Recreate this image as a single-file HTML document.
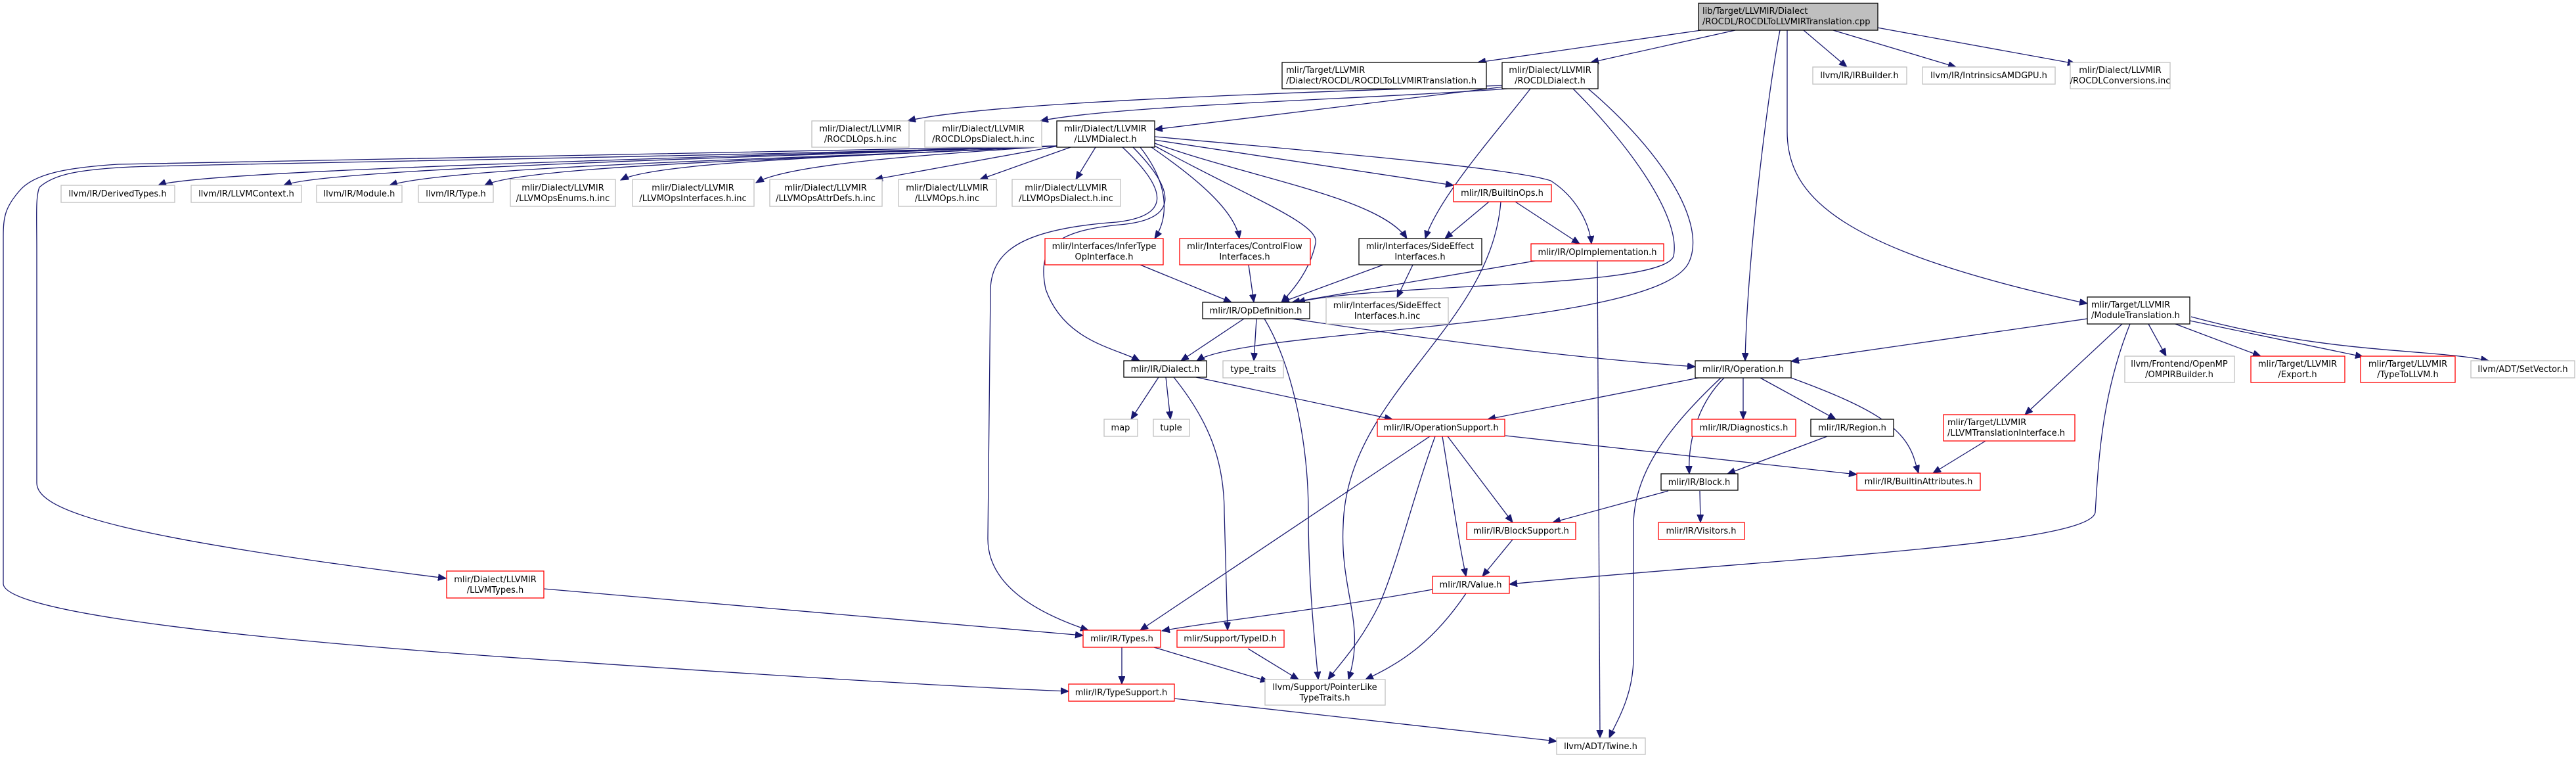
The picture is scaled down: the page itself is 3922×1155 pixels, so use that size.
<!DOCTYPE html>
<html><head><meta charset="utf-8"><style>
html,body{margin:0;padding:0;background:#fff;}
svg{display:block;}
text{font-family:"DejaVu Sans","Liberation Sans",sans-serif;font-size:13px;fill:#000;}
.e{fill:none;stroke:#191970;stroke-width:1.3;marker-end:url(#a);}
.b{fill:#fff;stroke:#000;stroke-width:1.3;}
.r{fill:#fff;stroke:#ff0000;stroke-width:1.3;}
.g{fill:#fff;stroke:#bfbfbf;stroke-width:1.3;}
.c{text-anchor:middle;}
</style></head><body>
<svg width="3922" height="1155" viewBox="0 0 3922 1155" xmlns="http://www.w3.org/2000/svg">
<defs><marker id="a" markerUnits="userSpaceOnUse" markerWidth="14" markerHeight="12" refX="12" refY="5" orient="auto"><path d="M0,0 L12,5 L0,10 z" fill="#191970" stroke="#191970"/></marker></defs>

<!-- edges -->
<path class="e" d="M2590,46 L2250,95"/>
<path class="e" d="M2642,46 L2422,95"/>
<path class="e" d="M2710,46 C2690,150 2660,400 2657,549"/>
<path class="e" d="M2721,46 L2721,200 C2721,300 2800,380 3178,462"/>
<path class="e" d="M2746,46 L2812,102"/>
<path class="e" d="M2791,46 L2978,102"/>
<path class="e" d="M2858,42 L3160,97"/>

<path class="e" d="M2290,132 L1758,197"/>
<path class="e" d="M2295,135 C2100,150 1700,160 1584,184"/>
<path class="e" d="M2290,130 C2000,140 1500,155 1382,184"/>
<path class="e" d="M2330,135 C2280,200 2190,300 2170,363"/>
<path class="e" d="M2395,135 C2480,220 2560,330 2548,390 C2530,440 2100,430 1975,460"/>
<path class="e" d="M2418,135 C2530,230 2600,340 2571,400 C2520,500 1900,500 1822,549"/>

<path class="e" d="M1630,224 L1492,273"/>
<path class="e" d="M1668,224 L1638,273"/>
<path class="e" d="M1612,222 L1332,273"/>
<path class="e" d="M1610,222 C1400,236 1200,250 1151,278"/>
<path class="e" d="M1610,222 C1300,238 1000,246 945,274"/>
<path class="e" d="M1610,222 C1300,240 800,250 738,282"/>
<path class="e" d="M1610,222 C1300,240 700,250 593,282"/>
<path class="e" d="M1610,222 C1200,238 500,255 432,282"/>
<path class="e" d="M1610,222 C1200,236 300,258 241,282"/>
<path class="e" d="M1610,222 C1200,236 300,250 200,254 C120,258 82,265 60,285 C54,300 56,330 56,380 L56,735 C56,780 200,820 679,880"/>
<path class="e" d="M1610,222 C1200,232 300,245 180,250 C100,255 51,265 30,290 C8,315 5,330 5,360 L5,888 C5,920 200,960 800,1002 C1200,1030 1450,1045 1627,1052"/>
<path class="e" d="M1758,213 L2213,282"/>
<path class="e" d="M1758,208 C2000,230 2300,255 2361,275 C2400,300 2420,340 2423,371"/>
<path class="e" d="M1758,218 C1900,270 2100,300 2142,363"/>
<path class="e" d="M1736,224 C1780,280 1780,330 1758,363"/>
<path class="e" d="M1753,224 C1820,270 1880,320 1887,363"/>
<path class="e" d="M1758,222 C1900,300 2010,340 2003,370 C1995,410 1970,440 1951,460"/>
<path class="e" d="M1709,224 C1790,300 1770,330 1700,338 C1560,348 1510,380 1508,440 L1504,820 C1504,900 1600,940 1657,959"/>
<path class="e" d="M1725,224 C1800,300 1785,335 1705,342 C1600,352 1580,380 1592,440 C1620,520 1700,530 1735,549"/>

<path class="e" d="M2267,307 L2200,363"/>
<path class="e" d="M2307,307 L2405,371"/>
<path class="e" d="M2285,307 C2270,500 2050,600 2045,800 C2040,900 2080,950 2053,1034"/>
<path class="e" d="M2432,397 L2436,1123"/>

<path class="e" d="M1736,403 L1875,460"/>
<path class="e" d="M1901,403 L1909,460"/>
<path class="e" d="M2106,403 L1951,460"/>
<path class="e" d="M2151,403 L2127,453"/>
<path class="e" d="M2343,396 L1967,460"/>

<path class="e" d="M1894,485 L1798,549"/>
<path class="e" d="M1913,485 L1909,549"/>
<path class="e" d="M1967,485 C2200,520 2400,545 2581,558"/>
<path class="e" d="M1925,485 C1970,560 1992,680 1992,780 C1992,880 2000,960 2007,1034"/>

<path class="e" d="M1764,574 L1722,638"/>
<path class="e" d="M1775,574 L1782,638"/>
<path class="e" d="M1821,574 L2120,638"/>
<path class="e" d="M1787,574 C1840,640 1864,700 1864,780 L1869,959"/>

<path class="e" d="M2586,575 L2265,638"/>
<path class="e" d="M2654,575 L2654,638"/>
<path class="e" d="M2680,575 L2795,638"/>
<path class="e" d="M2727,575 C2850,620 2900,650 2915,700 L2921,720"/>
<path class="e" d="M2625,575 C2580,620 2570,680 2572,721"/>
<path class="e" d="M2620,575 C2540,650 2487,720 2487,800 L2487,1000 C2487,1060 2460,1100 2450,1123"/>
<path class="e" d="M2782,664 L2630,721"/>
<path class="e" d="M2540,747 L2364,795"/>
<path class="e" d="M2588,747 L2589,795"/>

<path class="e" d="M2292,663 L2827,722"/>
<path class="e" d="M2204,664 L2303,795"/>
<path class="e" d="M2196,664 C2210,750 2220,820 2232,877"/>
<path class="e" d="M2177,664 L1736,959"/>
<path class="e" d="M2185,664 C2150,760 2130,850 2100,920 C2070,980 2040,1010 2022,1034"/>
<path class="e" d="M2303,821 L2257,877"/>
<path class="e" d="M2181,897 C2000,930 1850,945 1769,960"/>
<path class="e" d="M2232,903 C2180,980 2130,1010 2079,1034"/>
<path class="e" d="M1708,985 L1708,1041"/>
<path class="e" d="M1757,985 L1931,1037"/>
<path class="e" d="M1900,987 L1977,1034"/>
<path class="e" d="M1788,1063 L2370,1128"/>
<path class="e" d="M828,896 L1649,967"/>

<path class="e" d="M3178,485 L2727,550"/>
<path class="e" d="M3231,493 L3083,631"/>
<path class="e" d="M3243,493 C3200,600 3195,700 3190,780 C3180,830 2700,850 2298,889"/>
<path class="e" d="M3271,493 L3298,542"/>
<path class="e" d="M3312,493 L3442,542"/>
<path class="e" d="M3334,488 L3598,543"/>
<path class="e" d="M3336,482 C3550,540 3700,530 3789,549"/>
<path class="e" d="M3023,671 L2943,720"/>

<!-- nodes -->
<rect x="2586" y="5" width="273" height="41" fill="#bfbfbf" stroke="#000" stroke-width="1.3"/>
<text x="2592" y="21">lib/Target/LLVMIR/Dialect</text><text x="2592" y="37">/ROCDL/ROCDLToLLVMIRTranslation.cpp</text>

<rect class="b" x="1952" y="95" width="311" height="40"/>
<text x="1958" y="111">mlir/Target/LLVMIR</text><text x="1958" y="127">/Dialect/ROCDL/ROCDLToLLVMIRTranslation.h</text>
<rect class="b" x="2287" y="95" width="146" height="40"/>
<text class="c" x="2360" y="111">mlir/Dialect/LLVMIR</text><text class="c" x="2360" y="127">/ROCDLDialect.h</text>
<rect class="g" x="2760" y="102" width="143" height="26"/><text class="c" x="2831" y="119">llvm/IR/IRBuilder.h</text>
<rect class="g" x="2927" y="102" width="202" height="26"/><text class="c" x="3028" y="119">llvm/IR/IntrinsicsAMDGPU.h</text>
<rect class="g" x="3152" y="95" width="152" height="40"/>
<text class="c" x="3228" y="111">mlir/Dialect/LLVMIR</text><text class="c" x="3228" y="127">/ROCDLConversions.inc</text>

<rect class="g" x="1236" y="184" width="148" height="40"/>
<text class="c" x="1310" y="200">mlir/Dialect/LLVMIR</text><text class="c" x="1310" y="216">/ROCDLOps.h.inc</text>
<rect class="g" x="1408" y="184" width="178" height="40"/>
<text class="c" x="1497" y="200">mlir/Dialect/LLVMIR</text><text class="c" x="1497" y="216">/ROCDLOpsDialect.h.inc</text>
<rect class="b" x="1609" y="184" width="149" height="40"/>
<text class="c" x="1683" y="200">mlir/Dialect/LLVMIR</text><text class="c" x="1683" y="216">/LLVMDialect.h</text>

<rect class="g" x="93" y="282" width="173" height="26"/><text class="c" x="179" y="299">llvm/IR/DerivedTypes.h</text>
<rect class="g" x="291" y="282" width="168" height="26"/><text class="c" x="375" y="299">llvm/IR/LLVMContext.h</text>
<rect class="g" x="482" y="282" width="130" height="26"/><text class="c" x="547" y="299">llvm/IR/Module.h</text>
<rect class="g" x="637" y="282" width="114" height="26"/><text class="c" x="694" y="299">llvm/IR/Type.h</text>
<rect class="g" x="777" y="273" width="160" height="41"/>
<text class="c" x="857" y="290">mlir/Dialect/LLVMIR</text><text class="c" x="857" y="306">/LLVMOpsEnums.h.inc</text>
<rect class="g" x="963" y="273" width="185" height="41"/>
<text class="c" x="1055" y="290">mlir/Dialect/LLVMIR</text><text class="c" x="1055" y="306">/LLVMOpsInterfaces.h.inc</text>
<rect class="g" x="1172" y="273" width="171" height="41"/>
<text class="c" x="1257" y="290">mlir/Dialect/LLVMIR</text><text class="c" x="1257" y="306">/LLVMOpsAttrDefs.h.inc</text>
<rect class="g" x="1368" y="273" width="149" height="41"/>
<text class="c" x="1442" y="290">mlir/Dialect/LLVMIR</text><text class="c" x="1442" y="306">/LLVMOps.h.inc</text>
<rect class="g" x="1541" y="273" width="165" height="41"/>
<text class="c" x="1623" y="290">mlir/Dialect/LLVMIR</text><text class="c" x="1623" y="306">/LLVMOpsDialect.h.inc</text>
<rect class="r" x="2213" y="281" width="149" height="26"/><text class="c" x="2287" y="298">mlir/IR/BuiltinOps.h</text>

<rect class="r" x="1591" y="363" width="180" height="40"/>
<text class="c" x="1681" y="379">mlir/Interfaces/InferType</text><text class="c" x="1681" y="395">OpInterface.h</text>
<rect class="r" x="1796" y="363" width="199" height="40"/>
<text class="c" x="1895" y="379">mlir/Interfaces/ControlFlow</text><text class="c" x="1895" y="395">Interfaces.h</text>
<rect class="b" x="2069" y="363" width="187" height="40"/>
<text class="c" x="2162" y="379">mlir/Interfaces/SideEffect</text><text class="c" x="2162" y="395">Interfaces.h</text>
<rect class="r" x="2331" y="371" width="202" height="26"/><text class="c" x="2432" y="388">mlir/IR/OpImplementation.h</text>

<rect class="b" x="1831" y="460" width="163" height="25"/><text class="c" x="1912" y="477">mlir/IR/OpDefinition.h</text>
<rect class="g" x="2019" y="453" width="186" height="40"/>
<text class="c" x="2112" y="469">mlir/Interfaces/SideEffect</text><text class="c" x="2112" y="485">Interfaces.h.inc</text>
<rect class="b" x="3178" y="452" width="156" height="41"/>
<text x="3184" y="468">mlir/Target/LLVMIR</text><text x="3184" y="484">/ModuleTranslation.h</text>

<rect class="b" x="1711" y="549" width="126" height="25"/><text class="c" x="1774" y="566">mlir/IR/Dialect.h</text>
<rect class="g" x="1862" y="549" width="92" height="26"/><text class="c" x="1908" y="566">type_traits</text>
<rect class="b" x="2581" y="549" width="146" height="26"/><text class="c" x="2654" y="566">mlir/IR/Operation.h</text>
<rect class="g" x="3235" y="542" width="167" height="40"/>
<text class="c" x="3318" y="558">llvm/Frontend/OpenMP</text><text class="c" x="3318" y="574">/OMPIRBuilder.h</text>
<rect class="r" x="3427" y="542" width="143" height="40"/>
<text class="c" x="3498" y="558">mlir/Target/LLVMIR</text><text class="c" x="3498" y="574">/Export.h</text>
<rect class="r" x="3594" y="542" width="144" height="40"/>
<text class="c" x="3666" y="558">mlir/Target/LLVMIR</text><text class="c" x="3666" y="574">/TypeToLLVM.h</text>
<rect class="g" x="3762" y="549" width="158" height="26"/><text class="c" x="3841" y="566">llvm/ADT/SetVector.h</text>

<rect class="g" x="1681" y="638" width="51" height="26"/><text class="c" x="1706" y="655">map</text>
<rect class="g" x="1756" y="638" width="55" height="26"/><text class="c" x="1783" y="655">tuple</text>
<rect class="r" x="2097" y="638" width="194" height="26"/><text class="c" x="2194" y="655">mlir/IR/OperationSupport.h</text>
<rect class="r" x="2576" y="638" width="158" height="26"/><text class="c" x="2655" y="655">mlir/IR/Diagnostics.h</text>
<rect class="b" x="2757" y="638" width="126" height="26"/><text class="c" x="2820" y="655">mlir/IR/Region.h</text>
<rect class="r" x="2959" y="631" width="200" height="40"/>
<text x="2965" y="647">mlir/Target/LLVMIR</text><text x="2965" y="663">/LLVMTranslationInterface.h</text>

<rect class="b" x="2529" y="721" width="117" height="25"/><text class="c" x="2587" y="738">mlir/IR/Block.h</text>
<rect class="r" x="2827" y="720" width="188" height="26"/><text class="c" x="2921" y="737">mlir/IR/BuiltinAttributes.h</text>
<rect class="r" x="2233" y="795" width="166" height="26"/><text class="c" x="2316" y="812">mlir/IR/BlockSupport.h</text>
<rect class="r" x="2525" y="795" width="131" height="26"/><text class="c" x="2590" y="812">mlir/IR/Visitors.h</text>
<rect class="r" x="2181" y="877" width="117" height="26"/><text class="c" x="2239" y="894">mlir/IR/Value.h</text>
<rect class="r" x="680" y="869" width="148" height="41"/>
<text class="c" x="754" y="886">mlir/Dialect/LLVMIR</text><text class="c" x="754" y="902">/LLVMTypes.h</text>
<rect class="r" x="1649" y="959" width="118" height="26"/><text class="c" x="1708" y="976">mlir/IR/Types.h</text>
<rect class="r" x="1792" y="959" width="163" height="26"/><text class="c" x="1873" y="976">mlir/Support/TypeID.h</text>
<rect class="r" x="1627" y="1041" width="161" height="26"/><text class="c" x="1707" y="1058">mlir/IR/TypeSupport.h</text>
<rect class="g" x="1926" y="1034" width="183" height="39"/>
<text class="c" x="2017" y="1050">llvm/Support/PointerLike</text><text class="c" x="2017" y="1066">TypeTraits.h</text>
<rect class="g" x="2370" y="1123" width="135" height="25"/><text class="c" x="2437" y="1140">llvm/ADT/Twine.h</text>
</svg>
</body></html>
